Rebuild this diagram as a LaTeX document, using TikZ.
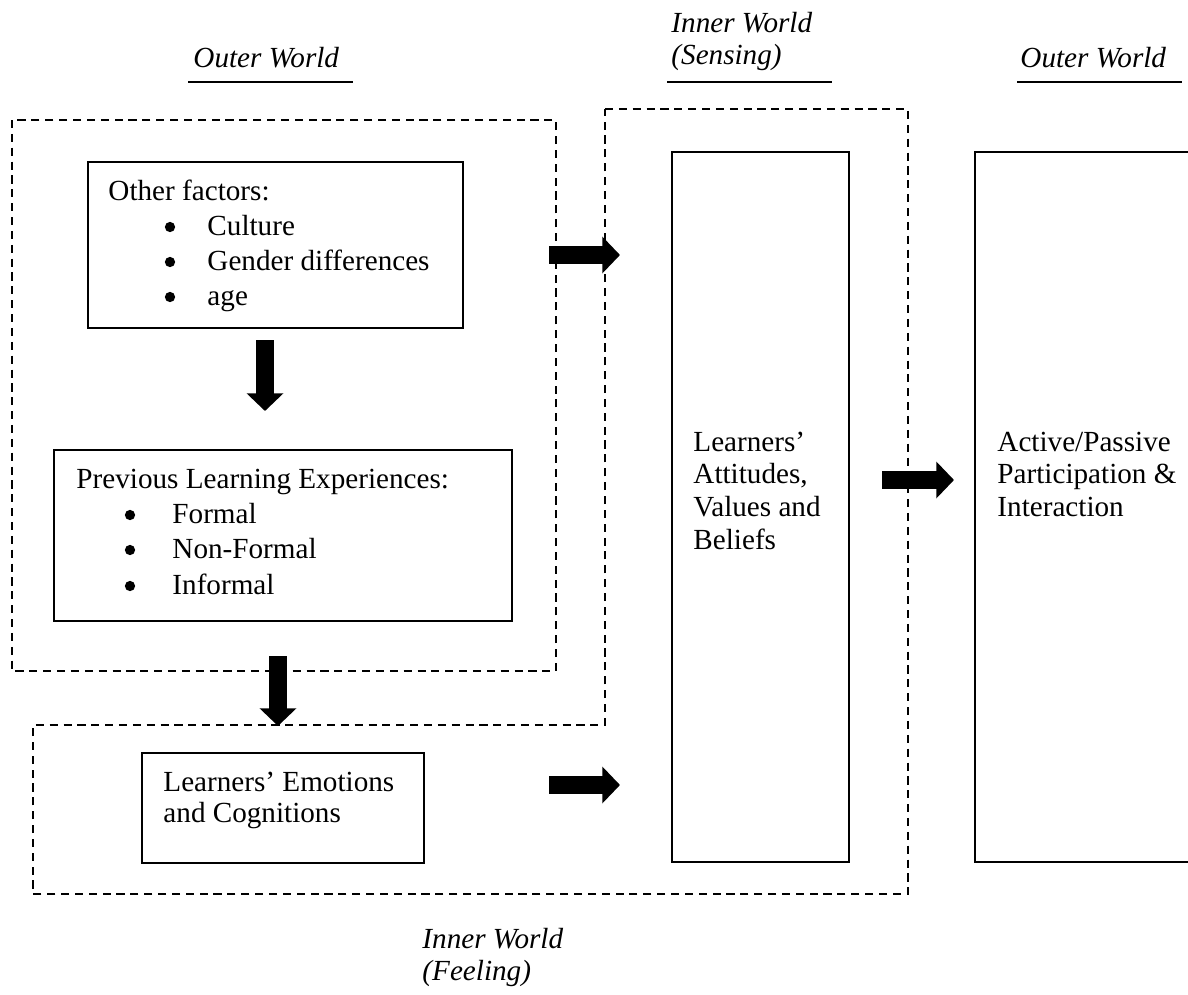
\documentclass[tikz,border=0pt]{standalone}
\usepackage{fontspec}
\setmainfont{Liberation Serif}
\usetikzlibrary{arrows.meta}
\tikzset{
  px/.style={x=0.4184pt,y=-0.4184pt},
  dashbox/.style={draw,line width=0.8pt,dash pattern=on 3.4pt off 2.4pt},
  solidbox/.style={draw,line width=1.1pt},
  txt/.style={inner sep=0pt,anchor=base west,font=\fontsize{12.2pt}{14pt}\selectfont},
  itxt/.style={txt,font=\fontsize{12.2pt}{14pt}\selectfont\itshape},
  bul/.style={circle,fill,inner sep=0pt,minimum size=4.3pt},
  headline/.style={line width=1pt},
  blockarrow/.style={line width=7.5pt,-{Triangle[length=7.4pt,width=15pt]}},
}
\begin{document}
\begin{tikzpicture}[px]
\useasboundingbox (0,0) rectangle (1188,995);

% headings
\node[itxt] (hOutL) at (193,67) {Outer World};
\draw[headline] (188,82) -- (353,82);
\node[itxt] (hInS1) at (671,32) {Inner World};
\node[itxt] (hInS2) at (671,64) {(Sensing)};
\draw[headline] (667,82) -- (832,82);
\node[itxt] (hOutR) at (1020,67) {Outer World};
\draw[headline] (1017,82) -- (1182,82);
\node[itxt] (hInF1) at (422,948) {Inner World};
\node[itxt] (hInF2) at (422,980) {(Feeling)};

% dashed regions
\draw[dashbox] (12,120) rectangle (556,671);
\draw[dashbox] (605,109) -- (908,109) -- (908,894) -- (33,894) -- (33,725) -- (605,725) -- cycle;

% solid boxes
\draw[solidbox] (88,162) rectangle (463,328);
\draw[solidbox] (54,450) rectangle (512,621);
\draw[solidbox] (142,753) rectangle (424,863);
\draw[solidbox] (672,152) rectangle (849,862);
\draw[solidbox] (1220,152) -- (975,152) -- (975,862) -- (1220,862);

% other factors
\node[txt] (of0) at (108,200) {Other factors:};
\node[bul] (ob1) at (170,227) {};
\node[txt] (of1) at (207,235) {Culture};
\node[bul] (ob2) at (170,262) {};
\node[txt] (of2) at (207,270) {Gender differences};
\node[bul] (ob3) at (170,297) {};
\node[txt] (of3) at (207,305) {age};

% previous learning experiences
\node[txt] (pl0) at (76,488) {Previous Learning Experiences:};
\node[bul] (pb1) at (130,515) {};
\node[txt] (pl1) at (172,523) {Formal};
\node[bul] (pb2) at (130,550) {};
\node[txt] (pl2) at (172,558) {Non-Formal};
\node[bul] (pb3) at (130,586) {};
\node[txt] (pl3) at (172,594) {Informal};

% emotions and cognitions
\node[txt] (em1) at (163,791) {Learners’ Emotions};
\node[txt] (em2) at (163,822) {and Cognitions};

% attitudes
\node[txt] (at1) at (693,451) {Learners’};
\node[txt] (at2) at (693,483) {Attitudes,};
\node[txt] (at3) at (693,516) {Values and};
\node[txt] (at4) at (693,549) {Beliefs};

% participation
\node[txt] (ap1) at (997,451) {Active/Passive};
\node[txt] (ap2) at (997,483) {Participation \&};
\node[txt] (ap3) at (997,516) {Interaction};

% block arrows
\coordinate (r1s) at (549,255); \coordinate (r1e) at (620,255);
\coordinate (d1s) at (265,340); \coordinate (d1e) at (265,411);
\coordinate (r2s) at (882,480); \coordinate (r2e) at (954,480);
\coordinate (d2s) at (278,656); \coordinate (d2e) at (278,726);
\coordinate (r3s) at (549,785); \coordinate (r3e) at (620,785);
\draw[blockarrow] (r1s) -- (r1e);
\draw[blockarrow] (d1s) -- (d1e);
\draw[blockarrow] (r2s) -- (r2e);
\draw[blockarrow] (d2s) -- (d2e);
\draw[blockarrow] (r3s) -- (r3e);
\end{tikzpicture}
\end{document}
